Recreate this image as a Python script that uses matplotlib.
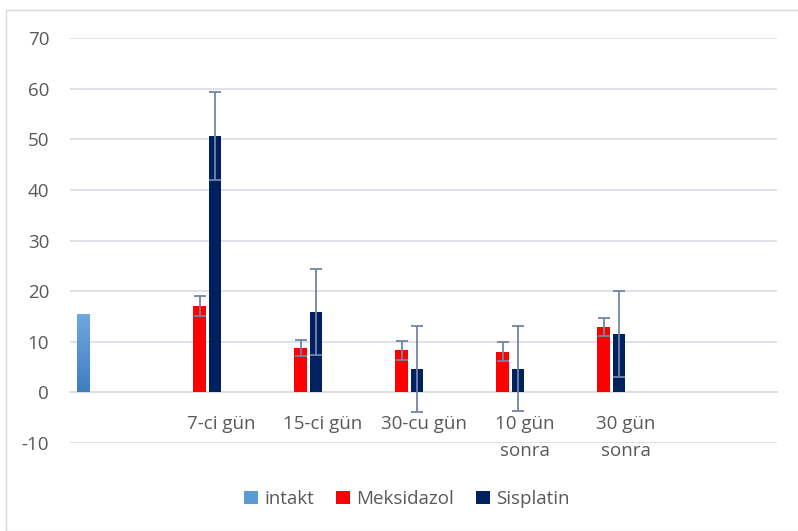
import matplotlib
matplotlib.use("Agg")
import matplotlib.pyplot as plt
import numpy as np
from matplotlib.patches import Rectangle
from matplotlib.colors import LinearSegmentedColormap

categories = ["", "7-ci gün", "15-ci gün", "30-cu gün", "10 gün\nsonra", "30 gün\nsonra", ""]
intakt = [15.4, np.nan, np.nan, np.nan, np.nan, np.nan, np.nan]
meksidazol = [np.nan, 17.0, 8.8, 8.3, 8.0, 12.9, np.nan]
meksidazol_err = [np.nan, 2.0, 1.6, 1.9, 1.9, 1.85, np.nan]
sisplatin = [np.nan, 50.7, 15.8, 4.7, 4.7, 11.6, np.nan]
sisplatin_err = [np.nan, 8.7, 8.5, 8.5, 8.4, 8.5, np.nan]
yticks = [-10, 0, 10, 20, 30, 40, 50, 60, 70]

plt.rcParams['font.family'] = ['Open Sans', 'DejaVu Sans']
text_color = '#595959'
grid_color = '#D9DCE6'
err_color = '#7285A5'
fs = 13.5

fig = plt.figure(figsize=(7.98, 5.31), dpi=100)
fig.patches.append(Rectangle((6/798, 0.0), 1.2, 1 - 10/531, transform=fig.transFigure,
                             fill=False, edgecolor='#D9D9D9', linewidth=1.0))
ax = fig.add_axes([70/798, 1 - 443/531, 707/798, (443 - 38)/531])

x = np.arange(len(categories))
w = 0.125
step = 0.15
off = [(i - 2.5) * step + 0.01 for i in range(3)]

bars_i = ax.bar(x + off[0], intakt, w, color='#5B9BD5', zorder=3, label='intakt')
cmap = LinearSegmentedColormap.from_list('g', ['#3F7DC2', '#6FA8DE'])
for b in bars_i:
    h = b.get_height()
    if np.isfinite(h):
        grad = np.linspace(0, 1, 100).reshape(-1, 1)
        im = ax.imshow(grad, cmap=cmap, origin='lower', aspect='auto',
                       extent=[b.get_x(), b.get_x() + b.get_width(), 0, h], zorder=3.1)
        im.set_clip_path(b)

ax.bar(x + off[1], meksidazol, w, color='#FF0000', zorder=3, label='Meksidazol')
ax.bar(x + off[2], sisplatin, w, color='#002060', zorder=3, label='Sisplatin')
ax.errorbar(x + off[1], meksidazol, yerr=meksidazol_err, fmt='none', ecolor=err_color,
            elinewidth=1.3, capsize=4.5, capthick=1.3, zorder=4)
ax.errorbar(x + off[2], sisplatin, yerr=sisplatin_err, fmt='none', ecolor=err_color,
            elinewidth=1.3, capsize=4.5, capthick=1.3, zorder=4)

ax.set_xlim(-0.5, len(categories) - 0.5)
ax.set_ylim(-10, 70)
ax.set_yticks(yticks)
ax.set_yticklabels([str(v) for v in yticks], color=text_color, fontsize=fs)
ax.yaxis.grid(True, color=grid_color, linewidth=1.2, zorder=0)
ax.set_axisbelow(True)
for s in ['top', 'right', 'left']:
    ax.spines[s].set_visible(False)
ax.spines['bottom'].set_position(('data', 0))
ax.spines['bottom'].set_color(grid_color)
ax.spines['bottom'].set_linewidth(1.2)
ax.set_xticks(x)
ax.set_xticklabels(categories, color=text_color, fontsize=fs, linespacing=1.65, va='top')
ax.tick_params(axis='x', length=0, pad=16)
ax.tick_params(axis='y', length=0, pad=15)
ax.set_facecolor('none')

h, l = ax.get_legend_handles_labels()
leg = fig.legend(h, l, loc='center', bbox_to_anchor=(407/798, 1 - 499/531), ncol=3,
                 frameon=False, handlelength=0.75, handleheight=0.75, handletextpad=0.35,
                 columnspacing=1.15, fontsize=fs)
for t in leg.get_texts():
    t.set_color(text_color)

fig.savefig('out.png', dpi=100)
